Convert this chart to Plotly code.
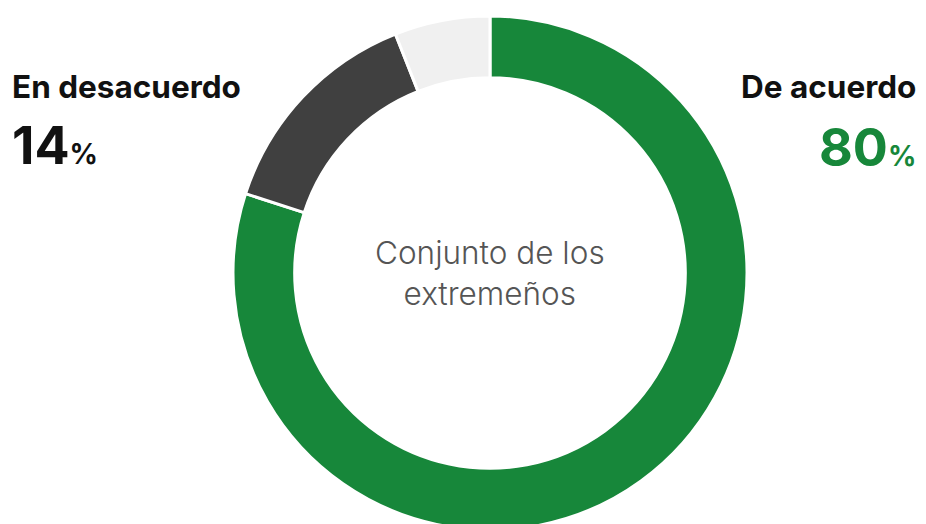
import plotly.graph_objects as go

categories = ["De acuerdo", "En desacuerdo", "NS/NC"]
values = [80, 14, 6]
colors = ["#17873a", "#404040", "#f0f0f0"]
center_label = "Conjunto de los<br>extremeños"

W, H = 926, 524
OFF = 8  # page body margin offset

cx, cy, R = 490 - OFF, 273 - OFF, 257

fig = go.Figure(go.Pie(
    labels=categories,
    values=values,
    hole=0.76,
    sort=False,
    direction="clockwise",
    rotation=0,
    marker=dict(colors=colors, line=dict(color="white", width=3)),
    textinfo="none",
    hoverinfo="label+percent",
    domain=dict(x=[(cx - R) / W, (cx + R) / W], y=[1 - (cy + R) / H, 1 - (cy - R) / H]),
    showlegend=False,
))

font_family = "Inter, 'Noto Sans', sans-serif"

fig.add_annotation(text=center_label, x=cx / W, y=1 - cy / H, xref="paper", yref="paper",
                   showarrow=False, xanchor="center", yanchor="middle",
                   font=dict(family=font_family, size=31.5, color="#555555", weight=300))

fig.add_annotation(text=f"<b>{categories[1]}</b>", x=2 / W, y=1 - 57 / H, xref="paper", yref="paper",
                   showarrow=False, xanchor="left", yanchor="top",
                   font=dict(family=font_family, size=31.5, color="#111111"))
fig.add_annotation(text=f"<b>{values[1]}</b><span style='font-size:28px'><b>%</b></span>",
                   x=2 / W, y=1 - 104 / H, xref="paper", yref="paper",
                   showarrow=False, xanchor="left", yanchor="top",
                   font=dict(family=font_family, size=52, color="#111111"))

fig.add_annotation(text=f"<b>{categories[0]}</b>", x=910 / W, y=1 - 57 / H, xref="paper", yref="paper",
                   showarrow=False, xanchor="right", yanchor="top",
                   font=dict(family=font_family, size=31.5, color="#111111"))
fig.add_annotation(text=f"<b>{values[0]}</b><span style='font-size:28px'><b>%</b></span>",
                   x=910 / W, y=1 - 106 / H, xref="paper", yref="paper",
                   showarrow=False, xanchor="right", yanchor="top",
                   font=dict(family=font_family, size=52, color=colors[0]))

fig.update_layout(width=W, height=H, margin=dict(l=0, r=0, t=0, b=0),
                  paper_bgcolor="white", plot_bgcolor="white")

fig.write_html("out.html")
